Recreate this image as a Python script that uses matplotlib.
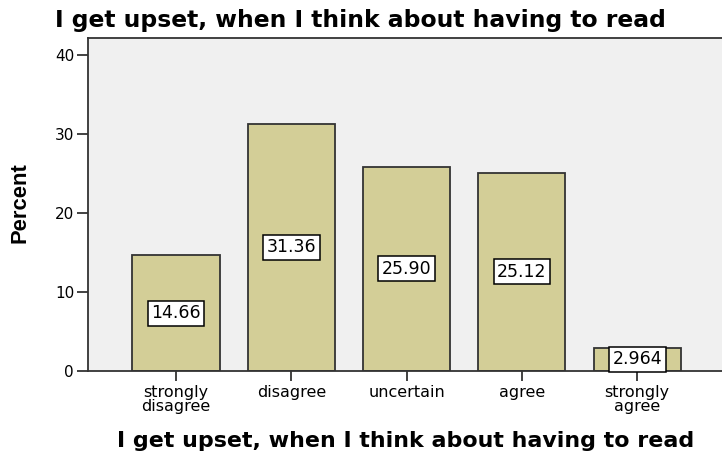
import matplotlib
matplotlib.use("Agg")
import matplotlib.pyplot as plt

categories = ["strongly\ndisagree", "disagree", "uncertain", "agree", "strongly\nagree"]
values = [14.66, 31.36, 25.90, 25.12, 2.964]
value_labels = ["14.66", "31.36", "25.90", "25.12", "2.964"]
yticks = [0, 10, 20, 30, 40]
title = "I get upset, when I think about having to read"
xlabel = "I get upset, when I think about having to read"
ylabel = "Percent"

fig = plt.figure(figsize=(7.22, 4.53), dpi=100)
ax = fig.add_axes([88/722, 1-371/453, 1-88/722 + 0.01, (371-38)/453])
ax.set_facecolor("#F0F0F0")

x = list(range(len(categories)))
ax.bar(x, values, width=0.755, color="#D3CE97", edgecolor="#333333", linewidth=1.3, zorder=2)

for xi, v, lab in zip(x, values, value_labels):
    ax.text(xi, v/2, lab, ha="center", va="center", fontsize=12.5,
            family="DejaVu Sans", color="black", zorder=3,
            bbox=dict(boxstyle="square,pad=0.2", fc="white", ec="black", lw=1.1))

ax.set_xlim(-0.763, 4.735 + 0.01*722/115.3)
ax.set_ylim(0, 42.2)
ax.set_yticks(yticks)
ax.set_xticks(x)
ax.set_xticklabels(categories, fontsize=11.5, family="DejaVu Sans", linespacing=0.9)
ax.tick_params(axis="y", labelsize=11, length=8, width=1.3, color="#333333", pad=2)
ax.tick_params(axis="x", length=7, width=1.3, color="#333333", pad=3)
for sp in ["left", "top", "bottom"]:
    ax.spines[sp].set_linewidth(1.3)
    ax.spines[sp].set_color("#333333")
ax.spines["right"].set_visible(False)

fig.text(20/722, 1-203/453, ylabel, fontsize=15.8, fontweight="bold", family="Liberation Sans",
         rotation=90, ha="center", va="center")
fig.text(55/722, 1-27/453, title, fontsize=16.9, fontweight="bold", family="DejaVu Sans",
         ha="left", va="baseline")
fig.text(406/722, 1-447/453, xlabel, fontsize=15.9, fontweight="bold", family="DejaVu Sans",
         ha="center", va="baseline")

fig.savefig("out.png", dpi=100)
